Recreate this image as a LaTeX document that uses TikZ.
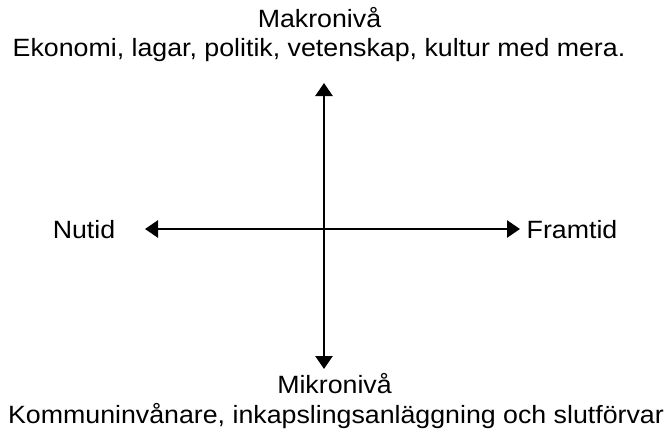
\documentclass[tikz,border=0pt]{standalone}
\usepackage{fontspec}
\setmainfont[FakeStretch=1.07]{Liberation Sans}
\usetikzlibrary{arrows.meta}
\begin{document}
\begin{tikzpicture}[x=1pt,y=-1pt,
  lbl/.style={font=\fontsize{25}{32}\selectfont, inner sep=0pt, anchor=base},
  axis/.style={line width=2.6pt, {Triangle[length=13pt,width=17pt]}-{Triangle[length=13pt,width=17pt]}}]
\useasboundingbox (0,0) rectangle (666,434);
\coordinate (top) at (324,83);
\coordinate (bot) at (324,369);
\coordinate (left) at (145,229);
\coordinate (right) at (520,229);
\draw[axis] (bot) -- (top);
\draw[axis] (left) -- (right);
\node[lbl] (makro) at (319.5,27) {Makronivå};
\node[lbl] (makrotext) at (319,56) {Ekonomi, lagar, politik, vetenskap, kultur med mera.};
\node[lbl] (mikro) at (334.5,393) {Mikronivå};
\node[lbl] (mikrotext) at (336,423) {Kommuninvånare, inkapslingsanläggning och slutförvar};
\node[lbl] (nutid) at (84,238) {Nutid};
\node[lbl] (framtid) at (572,238) {Framtid};
\end{tikzpicture}
\end{document}
